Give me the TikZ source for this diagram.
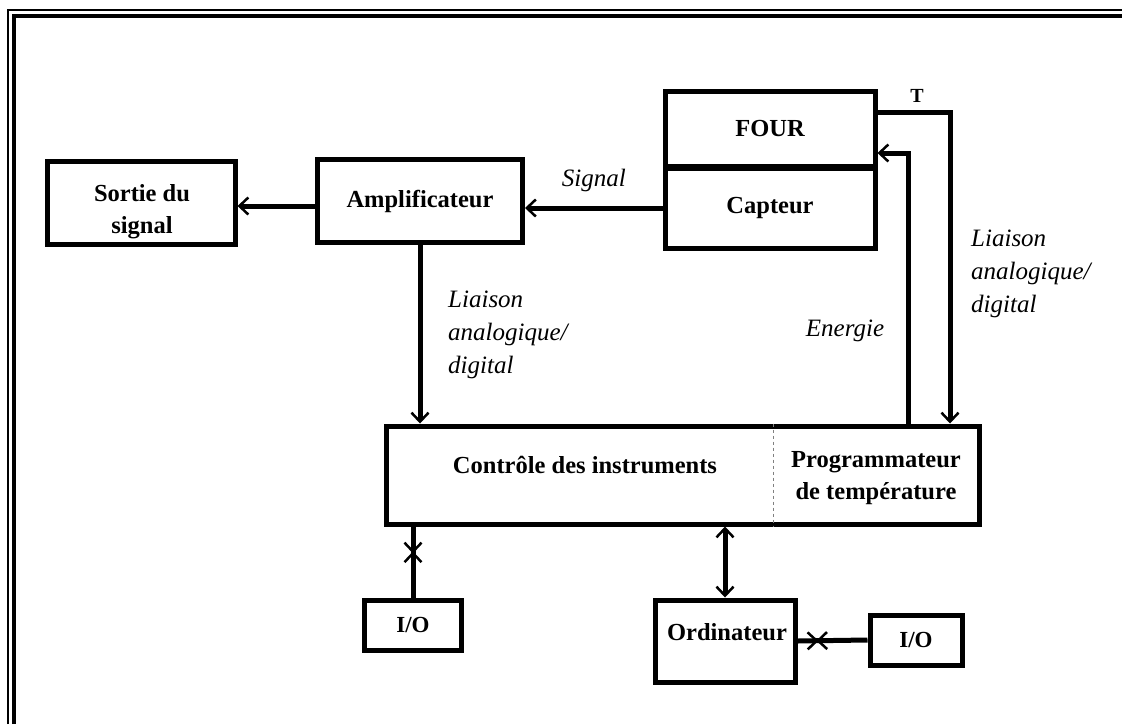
\documentclass[tikz,border=0pt]{standalone}
\usepackage{fontspec}
\setmainfont{Liberation Serif}
\usetikzlibrary{arrows.meta,decorations.markings}
\tikzset{
  blk/.style={draw,line width=5pt,inner sep=0pt,font=\fontsize{24.5}{31}\selectfont\bfseries,align=center},
  txt/.style={inner sep=0pt,font=\fontsize{24.5}{32}\selectfont\bfseries,align=center},
  lbl/.style={inner sep=0pt,font=\fontsize{25}{33}\selectfont\itshape,align=left},
  conn/.style={line width=5pt},
  meet/.style={conn,postaction={decorate},decoration={markings,
    mark=at position #1 with {\arrow{>}},mark=at position #1+0.14 with {\arrow{<}}}}
}
\begin{document}
\begin{tikzpicture}[x=1pt,y=-1pt,>={Straight Barb[length=9pt,width=17pt,line width=2.5pt]}]
\useasboundingbox (0,0) rectangle (1122,724);
% frame
\draw[line width=2pt] (8,724) -- (8,10) -- (1122,10);
\draw[line width=4pt] (14,724) -- (14,16) -- (1122,16);
% blocks
\node[blk,minimum width=188,minimum height=83] (sortie) at (141,203) {};
\node[txt] (sortietxt) at (142,212) {Sortie du\\signal};
\node[blk,minimum width=205,minimum height=83] (ampli) at (420,201) {Amplificateur};
\node[blk,minimum width=210,minimum height=75] (four) at (770,129) {FOUR};
\node[blk,minimum width=210,minimum height=80] (capteur) at (770,208) {Capteur};
\node[blk,minimum width=593,minimum height=98] (ctrl) at (683,475) {};
\node[txt] (ctrltxt) at (585,465) {Contrôle des instruments};
\node[txt] (prog) at (876,478) {Programmateur\\de température};
\coordinate (div) at (773,0);
\draw[dashed,line width=0.8pt,gray] (div |- ctrl.north) -- (div |- ctrl.south);
\node[blk,minimum width=97,minimum height=50] (io1) at (413,625) {\fontsize{23}{24}\selectfont I/O};
\node[blk,minimum width=140,minimum height=82] (ord) at (725,641) {};
\node[txt] (ordtxt) at (727,632) {Ordinateur};
\node[blk,minimum width=92,minimum height=50] (io2) at (916,640) {\fontsize{23}{24}\selectfont I/O};
% connectors
\draw[conn,->] (capteur.west) -- (capteur.west -| ampli.east) node[lbl,midway,above=14pt] (signal) {Signal};
\draw[conn,->] (ampli.west |- 0,206) -- (sortie.east |- 0,206);
\draw[conn,->] (ampli.south) -- (ampli.south |- ctrl.north);
\node[lbl,anchor=north west] (liaison1) at (448,291) {Liaison\\analogique/\\digital};
\coordinate (tr) at (950,112);
\draw[conn,->] (four.east |- tr) -- (tr) -- (tr |- ctrl.north);
\node[txt,font=\fontsize{20}{20}\selectfont\bfseries] (t) at (917,96) {T};
\node[lbl,anchor=north west] (liaison2) at (971,230) {Liaison\\analogique/\\digital};
\coordinate (en) at (908,153);
\draw[conn,->] (en |- ctrl.north) -- (en) -- (four.east |- en);
\node[lbl] (energie) at (845,331) {Energie};
\draw[conn,<->] (ord.north |- ctrl.south) -- (ord.north);
\draw[meet=0.38] (io1.north |- ctrl.south) -- (io1.north);
\draw[meet=0.3] (ord.east) -- (io2.west);
\end{tikzpicture}
\end{document}
